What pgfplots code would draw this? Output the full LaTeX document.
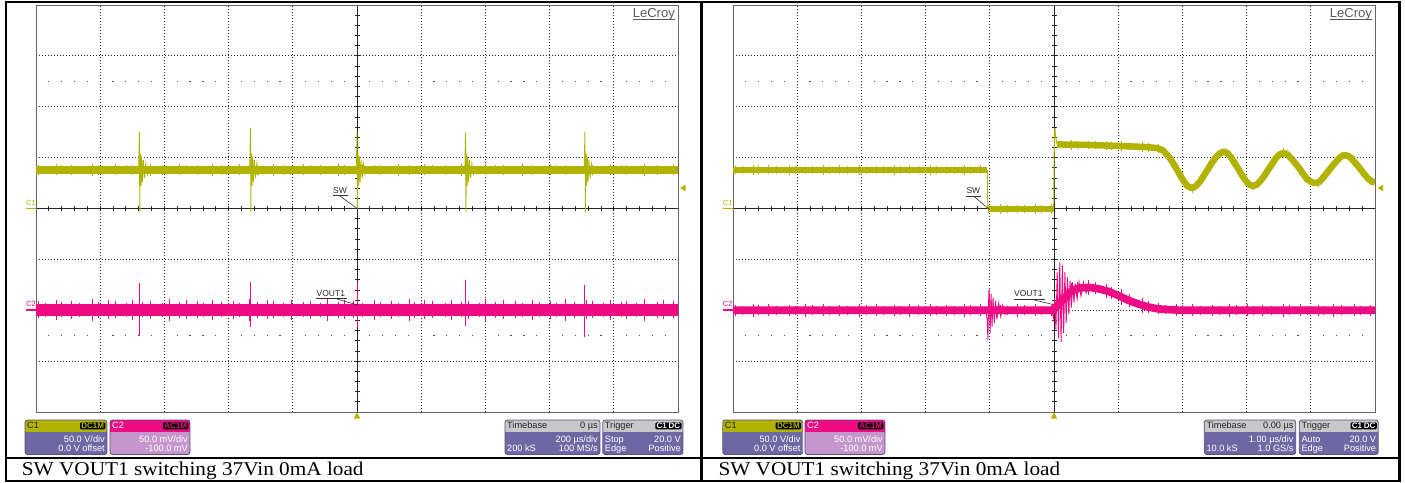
\documentclass[border=0pt]{standalone}
\usepackage{fontspec}
\setmainfont{Liberation Sans}
\newfontfamily\capfont{Liberation Serif}
\usepackage{pgfplots}
\usepackage{pgfplotstable}
\pgfplotsset{compat=1.18}
\definecolor{ytr}{RGB}{178,178,0}
\definecolor{ptr}{RGB}{238,10,130}
\definecolor{bpur}{RGB}{110,103,163}
\definecolor{bpink}{RGB}{196,150,204}
\definecolor{bgray}{RGB}{200,200,200}
\definecolor{bedge}{RGB}{85,80,125}
% noise band half-heights (div): x, centre and half-height per trace
\pgfplotstableread{
x    yA   eA    yB    eB    yC    eC    yD     eD
0.03 0.76 0.095 -1.99 0.165 0.76  0.082 -2.0   0.105
0.14 0.76 0.082 -1.99 0.14  0.76  0.074 -2.0   0.09
0.31 0.76 0.108 -1.99 0.2   0.76  0.095 -2.0   0.125
0.40 0.76 0.088 -1.99 0.15  0.76  0.078 -2.0   0.095
0.55 0.76 0.102 -1.99 0.18  0.76  0.09  -2.0   0.115
0.68 0.76 0.08  -1.99 0.135 0.76  0.073 -2.0   0.088
0.87 0.76 0.115 -1.99 0.215 0.76  0.102 -2.0   0.105
0.97 0.76 0.095 -1.99 0.155 0.76  0.08  -2.0   0.09
1.13 0.76 0.082 -1.99 0.185 0.76  0.082 -2.0   0.125
1.24 0.76 0.108 -1.99 0.165 0.76  0.074 -2.0   0.095
1.41 0.76 0.088 -1.99 0.14  0.76  0.095 -2.0   0.115
1.50 0.76 0.102 -1.99 0.2   0.76  0.078 -2.0   0.088
1.65 0.76 0.08  -1.99 0.15  0.76  0.09  -2.0   0.105
1.78 0.76 0.115 -1.99 0.18  0.76  0.073 -2.0   0.09
1.97 0.76 0.095 -1.99 0.135 0.76  0.102 -2.0   0.125
2.07 0.76 0.082 -1.99 0.215 0.76  0.08  -2.0   0.095
2.23 0.76 0.108 -1.99 0.155 0.76  0.082 -2.0   0.115
2.34 0.76 0.088 -1.99 0.185 0.76  0.074 -2.0   0.088
2.51 0.76 0.102 -1.99 0.165 0.76  0.095 -2.0   0.105
2.60 0.76 0.08  -1.99 0.14  0.76  0.078 -2.0   0.09
2.75 0.76 0.115 -1.99 0.2   0.76  0.09  -2.0   0.125
2.88 0.76 0.095 -1.99 0.15  0.76  0.073 -2.0   0.095
3.07 0.76 0.082 -1.99 0.18  0.76  0.102 -2.0   0.115
3.17 0.76 0.108 -1.99 0.135 0.76  0.08  -2.0   0.088
3.33 0.76 0.088 -1.99 0.215 0.76  0.082 -2.0   0.105
3.44 0.76 0.102 -1.99 0.155 0.76  0.074 -2.0   0.09
3.61 0.76 0.08  -1.99 0.185 0.76  0.095 -2.0   0.125
3.70 0.76 0.115 -1.99 0.165 0.76  0.078 -2.0   0.095
3.85 0.76 0.095 -1.99 0.14  0.76  0.09  -2.0   0.115
3.98 0.76 0.082 -1.99 0.2   -0.01 0.073 -2.0   0.088
4.17 0.76 0.108 -1.99 0.15  -0.01 0.102 -2.0   0.105
4.27 0.76 0.088 -1.99 0.18  -0.01 0.08  -2.0   0.09
4.43 0.76 0.102 -1.99 0.135 -0.01 0.082 -2.0   0.125
4.54 0.76 0.08  -1.99 0.215 -0.01 0.074 -2.0   0.095
4.71 0.76 0.115 -1.99 0.155 -0.01 0.095 -2.0   0.115
4.80 0.76 0.095 -1.99 0.185 -0.01 0.078 -2.0   0.088
4.95 0.76 0.082 -1.99 0.165 -0.01 0.09  -2.0   0.105
5.08 0.76 0.108 -1.99 0.14  1.26  0.073 -1.82  0.09
5.27 0.76 0.088 -1.99 0.2   1.25  0.102 -1.62  0.155
5.37 0.76 0.102 -1.99 0.15  1.25  0.08  -1.57  0.125
5.53 0.76 0.08  -1.99 0.18  1.25  0.082 -1.55  0.145
5.64 0.76 0.115 -1.99 0.135 1.245 0.074 -1.57  0.118
5.81 0.76 0.095 -1.99 0.215 1.24  0.095 -1.62  0.135
5.90 0.76 0.082 -1.99 0.155 1.235 0.078 -1.66  0.12
6.05 0.76 0.108 -1.99 0.185 1.23  0.09  -1.74  0.155
6.18 0.76 0.088 -1.99 0.165 1.22  0.073 -1.81  0.125
6.37 0.76 0.102 -1.99 0.14  1.21  0.102 -1.90  0.145
6.47 0.76 0.08  -1.99 0.2   1.20  0.08  -1.94  0.118
6.63 0.76 0.115 -1.99 0.15  1.18  0.082 -1.97  0.105
6.74 0.76 0.095 -1.99 0.18  1.10  0.074 -1.985 0.09
6.91 0.76 0.082 -1.99 0.135 0.78  0.095 -1.995 0.125
7.00 0.76 0.108 -1.99 0.215 0.58  0.078 -2.0   0.095
7.15 0.76 0.088 -1.99 0.155 0.40  0.09  -2.0   0.115
7.28 0.76 0.102 -1.99 0.185 0.54  0.073 -2.0   0.088
7.47 0.76 0.08  -1.99 0.165 0.92  0.102 -2.0   0.105
7.57 0.76 0.115 -1.99 0.14  1.07  0.08  -2.0   0.09
7.73 0.76 0.095 -1.99 0.2   1.05  0.082 -2.0   0.125
7.84 0.76 0.082 -1.99 0.15  0.84  0.074 -2.0   0.095
8.01 0.76 0.108 -1.99 0.18  0.51  0.095 -2.0   0.115
8.10 0.76 0.088 -1.99 0.135 0.44  0.078 -2.0   0.088
8.25 0.76 0.102 -1.99 0.215 0.60  0.09  -2.0   0.105
8.38 0.76 0.08  -1.99 0.155 0.84  0.073 -2.0   0.09
8.57 0.76 0.115 -1.99 0.185 1.09  0.102 -2.0   0.125
8.67 0.76 0.095 -1.99 0.165 1.02  0.08  -2.0   0.095
8.83 0.76 0.082 -1.99 0.14  0.77  0.082 -2.0   0.115
8.94 0.76 0.108 -1.99 0.2   0.58  0.074 -2.0   0.088
9.11 0.76 0.088 -1.99 0.15  0.51  0.095 -2.0   0.105
9.20 0.76 0.102 -1.99 0.18  0.62  0.078 -2.0   0.09
9.35 0.76 0.08  -1.99 0.135 0.86  0.09  -2.0   0.125
9.48 0.76 0.115 -1.99 0.215 1.03  0.073 -2.0   0.095
9.67 0.76 0.095 -1.99 0.155 0.93  0.102 -2.0   0.115
9.77 0.76 0.082 -1.99 0.185 0.78  0.08  -2.0   0.088
9.93 0.76 0.108 -1.99 0.165 0.55  0.082 -2.0   0.105
}\hair
\pgfplotsset{osc/.style={width=642pt,height=407pt,scale only axis,
  xmin=0,xmax=10,ymin=-4,ymax=4,
  xtick={1,2,3,4,6,7,8,9}, ytick={-3,-2,-1,1,2,3},
  xticklabels={}, yticklabels={}, major tick length=0pt, tick style={draw=none},
  xmajorgrids, ymajorgrids,
  major grid style={black!85, line width=0.8pt, dash pattern=on 1pt off 2pt},
  axis line style={black!60, line width=0.9pt}, anchor=south west},
  hairs/.style={draw=none, mark=none, forget plot, error bars/.cd, y dir=both, y explicit,
  error mark=none, error bar style={draw=#1, line width=0.6pt, solid}}}
\newcommand\boxfont{\fontsize{9.2}{9.2}\selectfont}
\tikzset{badge/.style={fill=black, rounded corners=1.2pt, inner xsep=1.3pt, inner ysep=0.7pt,
  font=\fontsize{8}{8}\selectfont\bfseries, text height=5.6pt, text depth=0pt, anchor=east},
  bt/.style={inner sep=0pt, font=\boxfont},
  lbl/.style={inner sep=0pt, font=\fontsize{8.5}{8.5}\selectfont, text=black!85, anchor=base west}}
\newcommand{\obox}[4]{%
  \begin{scope}
    \clip[rounded corners=2.5pt] (#1,420) rectangle (#2,454.5);
    \fill[#4] (#1,420) rectangle (#2,454.5);
    \fill[#3] (#1,420) rectangle (#2,431.5);
  \end{scope}
  \draw[bedge, line width=0.8pt, rounded corners=2.5pt] (#1,420) rectangle (#2,454.5);}
\begin{document}
\begin{tikzpicture}
\path[use as bounding box] (0,0) rectangle (1405pt,-482pt);
% centre cross, ticks and dot rows
\begin{scope}[x=1pt,y=-1pt]
\foreach \X in {36,733} {
  \draw[black!85, line width=0.8pt] (\X,208.5) -- ({\X+642},208.5);
  \draw[black!85, line width=0.8pt] ({\X+321},5) -- ({\X+321},412);
  \foreach \k in {1,...,49} {
    \draw[black!85, line width=0.8pt] ({\X+12.84*\k},206) -- ({\X+12.84*\k},211);
    \pgfmathtruncatemacro\m{mod(\k,5)}
    \ifnum\m>0
      \fill[black!70] ({\X+12.84*\k-0.6},80.7) rectangle ({\X+12.84*\k+0.6},81.9);
      \fill[black!70] ({\X+12.84*\k-0.6},335.2) rectangle ({\X+12.84*\k+0.6},336.4);
    \fi
  }
  \foreach \k in {1,...,39} {
    \draw[black!85, line width=0.8pt] ({\X+318.5},{5+10.175*\k}) -- ({\X+323.5},{5+10.175*\k});
  }
}
\end{scope}

% ---------------- left screen ----------------
\begin{axis}[osc, at={(36pt,-412pt)}]
\addplot[ytr, line width=7.6pt] coordinates {(0,0.76) (10,0.76)};
\addplot[hairs=ytr] table[x=x, y=yA, y error=eA] {\hair};
\addplot[ytr, line width=0.9pt] coordinates {(1.60,0.76)(1.61,1.50)(1.614,0.80)(1.617,-0.07)(1.621,0.70)(1.628,1.08)(1.636,0.45)(1.646,1.02)(1.658,0.52)(1.672,0.95)(1.69,0.60)(1.71,0.88)(1.735,0.68)(1.76,0.80)(1.79,0.76)};
\addplot[ytr, line width=0.9pt] coordinates {(3.33,0.76)(3.34,1.58)(3.344,0.80)(3.347,-0.07)(3.351,0.70)(3.358,1.08)(3.366,0.45)(3.376,1.02)(3.388,0.52)(3.402,0.95)(3.42,0.60)(3.44,0.88)(3.465,0.68)(3.49,0.80)(3.52,0.76)};
\addplot[ytr, line width=0.9pt] coordinates {(4.99,0.76)(5.00,1.49)(5.004,0.80)(5.007,0.00)(5.011,0.70)(5.018,1.08)(5.026,0.45)(5.036,1.02)(5.048,0.52)(5.062,0.95)(5.08,0.60)(5.10,0.88)(5.125,0.68)(5.15,0.80)(5.18,0.76)};
\addplot[ytr, line width=0.9pt] coordinates {(6.68,0.76)(6.69,1.48)(6.694,0.80)(6.697,-0.07)(6.701,0.70)(6.708,1.08)(6.716,0.45)(6.726,1.02)(6.738,0.52)(6.752,0.95)(6.77,0.60)(6.79,0.88)(6.815,0.68)(6.84,0.80)(6.87,0.76)};
\addplot[ytr, line width=0.9pt] coordinates {(8.54,0.76)(8.55,1.51)(8.554,0.80)(8.557,-0.07)(8.561,0.70)(8.568,1.08)(8.576,0.45)(8.586,1.02)(8.598,0.52)(8.612,0.95)(8.63,0.60)(8.65,0.88)(8.675,0.68)(8.70,0.80)(8.73,0.76)};
\addplot[ptr, line width=12pt] coordinates {(0,-1.99) (10,-1.99)};
\addplot[hairs=ptr] table[x=x, y=yB, y error=eB] {\hair};
\addplot[ptr, line width=0.9pt] coordinates {(1.61,-1.46)(1.61,-2.50)};
\addplot[ptr, line width=0.9pt] coordinates {(3.34,-1.44)(3.34,-2.33)};
\addplot[ptr, line width=0.9pt] coordinates {(5.00,-1.44)(5.00,-2.33)};
\addplot[ptr, line width=0.9pt] coordinates {(6.69,-1.40)(6.69,-2.31)};
\addplot[ptr, line width=0.9pt] coordinates {(8.55,-1.51)(8.55,-2.53)};
\end{axis}

% ---------------- right screen ----------------
\begin{axis}[osc, at={(733pt,-412pt)}]
\addplot[ytr, line width=6.5pt] coordinates {(0,0.76) (3.962,0.76)};
\addplot[ytr, line width=1pt] coordinates {(3.962,0.76)(3.966,0.30)(3.970,-0.01)};
\addplot[ytr, line width=5.5pt] coordinates {(3.970,-0.01) (4.995,-0.01)};
\addplot[ytr, line width=1pt] coordinates {(4.995,-0.01)(5.0,0.6)(5.006,1.45)(5.014,1.58)(5.025,1.42)(5.04,1.30)(5.06,1.26)};
\addplot[ytr, line width=6.5pt, line join=round] coordinates {(5.05,1.26)(5.5,1.25)(6.0,1.23)(6.4,1.21)(6.6,1.19)(6.7,1.14)(6.8,1.0)(6.9,0.80)(7.0,0.58)(7.07,0.45)(7.14,0.40)(7.2,0.43)(7.27,0.52)(7.33,0.64)(7.39,0.76)(7.45,0.88)(7.51,0.99)(7.58,1.08)(7.64,1.12)(7.70,1.09)(7.76,1.00)(7.81,0.90)(7.87,0.78)(7.93,0.65)(7.99,0.54)(8.04,0.47)(8.10,0.44)(8.16,0.47)(8.22,0.55)(8.28,0.65)(8.34,0.77)(8.40,0.88)(8.45,0.98)(8.51,1.06)(8.57,1.09)(8.63,1.07)(8.69,0.99)(8.76,0.89)(8.82,0.79)(8.88,0.68)(8.94,0.58)(9.01,0.52)(9.07,0.50)(9.13,0.52)(9.18,0.59)(9.24,0.68)(9.30,0.78)(9.36,0.87)(9.42,0.96)(9.47,1.02)(9.53,1.05)(9.59,1.03)(9.65,0.96)(9.71,0.87)(9.77,0.78)(9.83,0.68)(9.89,0.59)(9.95,0.53)(10.0,0.51)};
\addplot[hairs=ytr] table[x=x, y=yC, y error=eC] {\hair};
\addplot[ptr, line width=7.6pt, line join=round] coordinates {(0,-2.0)(4.98,-2.0)(5.1,-1.85)(5.25,-1.64)(5.4,-1.56)(5.55,-1.55)(5.7,-1.58)(5.85,-1.63)(6.0,-1.71)(6.15,-1.80)(6.3,-1.87)(6.45,-1.93)(6.6,-1.97)(6.8,-1.99)(7.0,-2.0)(10,-2.0)};
\addplot[hairs=ptr] table[x=x, y=yD, y error=eD] {\hair};
\addplot[ptr, line width=0.9pt] coordinates {(3.94,-2.0)(3.96,-2.2)(3.97,-2.58)(3.985,-1.62)(3.99,-1.58)(4.005,-2.45)(4.02,-1.68)(4.035,-2.32)(4.05,-1.75)(4.07,-2.25)(4.09,-1.82)(4.11,-2.18)(4.14,-1.86)(4.17,-2.12)(4.20,-1.90)(4.24,-2.08)(4.28,-1.95)(4.32,-2.0)};
\addplot[ptr, line width=0.9pt] coordinates {(4.97,-2.0)(4.99,-2.15)(5.01,-1.75)(5.03,-2.38)(5.05,-1.25)(5.07,-2.55)(5.09,-1.06)(5.11,-2.62)(5.13,-1.12)(5.15,-2.45)(5.17,-1.25)(5.19,-2.25)(5.21,-1.35)(5.23,-2.08)(5.25,-1.42)(5.27,-1.95)(5.29,-1.45)(5.31,-1.85)(5.33,-1.48)(5.36,-1.78)(5.39,-1.45)(5.42,-1.72)(5.46,-1.45)(5.50,-1.66)(5.55,-1.50)};
\end{axis}

% ---------------- overlays ----------------
\begin{scope}[x=1pt,y=-1pt]
\foreach \X in {0,697} {
  \node[anchor=base east, inner sep=0pt, text=black!65, font=\fontsize{13}{13}\selectfont] at ({675+\X},17.5) {LeCroy};
  \draw[black!65, line width=0.8pt] ({633+\X},19.8) -- ({675+\X},19.8);
}
\foreach \X in {26,722.7} {
  \node[anchor=base west, inner sep=0pt, text=ytr, font=\fontsize{7.5}{7.5}\selectfont] at (\X,205.5) {C1};
  \draw[ytr, line width=1.4pt] (\X,208.5) -- ({\X+10.3},208.5);
  \node[anchor=base west, inner sep=0pt, text=ptr, font=\fontsize{7.5}{7.5}\selectfont] at (\X,306.8) {C2};
  \draw[ptr, line width=1.4pt] (\X,309.8) -- ({\X+10.3},309.8);
}
\fill[ytr] (680,188) -- (685.5,184.8) -- (685.5,191.2) -- cycle;
\fill[ytr] (1377.5,188) -- (1383,184.8) -- (1383,191.2) -- cycle;
\fill[ytr] (357,412.3) -- (353.8,418.5) -- (360.2,418.5) -- cycle;
\fill[ytr] (1054,412.3) -- (1050.8,418.5) -- (1057.2,418.5) -- cycle;
\node[lbl] at (333,193.3) {SW};
\draw[black!80, line width=0.6pt] (332.5,195.6) -- (347.5,195.6);
\draw[black!80, line width=0.6pt] (340,196) -- (357,208.5);
\node[lbl] at (966.3,193.5) {SW};
\draw[black!80, line width=0.6pt] (965.8,196) -- (981,196);
\draw[black!80, line width=0.6pt] (974,196.5) -- (989.5,209.5);
\node[lbl] at (316.5,296.3) {VOUT1};
\draw[black!80, line width=0.6pt] (316,298.6) -- (347,298.6);
\draw[black!80, line width=0.6pt] (337,299) -- (357.5,305);
\node[lbl] at (1014,296.8) {VOUT1};
\draw[black!80, line width=0.6pt] (1013.5,299.1) -- (1045,299.1);
\draw[black!80, line width=0.6pt] (1034,300) -- (1053,304.5);
% info boxes, left screen
\obox{25}{107}{ytr}{bpur}
\node[bt, anchor=base west, text=black!85] at (27,428.5) {C1};
\node[badge, text=ytr] at (105.5,425.8) {DC1M};
\node[bt, anchor=base east, text=white] at (105,442.3) {50.0 V/div};
\node[bt, anchor=base east, text=white] at (105,451.5) {0.0 V offset};
\obox{110}{190}{ptr}{bpink}
\node[bt, anchor=base west, text=white] at (112,428.5) {C2};
\node[badge, text=ptr] at (188.5,425.8) {AC1M};
\node[bt, anchor=base east, text=white] at (188,442.3) {50.0 mV/div};
\node[bt, anchor=base east, text=white] at (188,451.5) {-100.0 mV};
\obox{505}{600}{bgray}{bpur}
\node[bt, anchor=base west, text=black!85] at (507,428.5) {Timebase};
\node[bt, anchor=base east, text=black!85] at (598,428.5) {0 µs};
\node[bt, anchor=base east, text=white] at (598,442.3) {200 µs/div};
\node[bt, anchor=base west, text=white] at (507,451.5) {200 kS};
\node[bt, anchor=base east, text=white] at (598,451.5) {100 MS/s};
\obox{602.7}{683}{bgray}{bpur}
\node[bt, anchor=base west, text=black!85] at (604.7,428.5) {Trigger};
\node[badge, text=white] at (668.3,425.8) {C1};
\node[badge, text=white] at (681.7,425.8) {DC};
\node[bt, anchor=base west, text=white] at (604.7,442.3) {Stop};
\node[bt, anchor=base east, text=white] at (681,442.3) {20.0 V};
\node[bt, anchor=base west, text=white] at (604.7,451.5) {Edge};
\node[bt, anchor=base east, text=white] at (681,451.5) {Positive};
% info boxes, right screen
\obox{722.7}{802.7}{ytr}{bpur}
\node[bt, anchor=base west, text=black!85] at (724.7,428.5) {C1};
\node[badge, text=ytr] at (801.2,425.8) {DC1M};
\node[bt, anchor=base east, text=white] at (800.7,442.3) {50.0 V/div};
\node[bt, anchor=base east, text=white] at (800.7,451.5) {0.0 V offset};
\obox{805}{885}{ptr}{bpink}
\node[bt, anchor=base west, text=white] at (807,428.5) {C2};
\node[badge, text=ptr] at (883.5,425.8) {AC1M};
\node[bt, anchor=base east, text=white] at (883,442.3) {50.0 mV/div};
\node[bt, anchor=base east, text=white] at (883,451.5) {-100.0 mV};
\obox{1204.3}{1295.7}{bgray}{bpur}
\node[bt, anchor=base west, text=black!85] at (1206.3,428.5) {Timebase};
\node[bt, anchor=base east, text=black!85] at (1293.7,428.5) {0.00 µs};
\node[bt, anchor=base east, text=white] at (1293.7,442.3) {1.00 µs/div};
\node[bt, anchor=base west, text=white] at (1206.3,451.5) {10.0 kS};
\node[bt, anchor=base east, text=white] at (1293.7,451.5) {1.0 GS/s};
\obox{1299.3}{1378.3}{bgray}{bpur}
\node[bt, anchor=base west, text=black!85] at (1301.3,428.5) {Trigger};
\node[badge, text=white] at (1363.6,425.8) {C1};
\node[badge, text=white] at (1377,425.8) {DC};
\node[bt, anchor=base west, text=white] at (1301.3,442.3) {Auto};
\node[bt, anchor=base east, text=white] at (1376.3,442.3) {20.0 V};
\node[bt, anchor=base west, text=white] at (1301.3,451.5) {Edge};
\node[bt, anchor=base east, text=white] at (1376.3,451.5) {Positive};
% captions
\node[anchor=base west, inner sep=0pt, font=\capfont\fontsize{19.5}{19.5}\selectfont] at (21.7,475) {\scalebox{1.09}[1]{SW VOUT1 switching 37Vin 0mA load}};
\node[anchor=base west, inner sep=0pt, font=\capfont\fontsize{19.5}{19.5}\selectfont] at (718.3,475) {\scalebox{1.09}[1]{SW VOUT1 switching 37Vin 0mA load}};
% table rules
\draw[black, line width=2.2pt] (4.8,2) -- (1400.5,2);
\draw[black, line width=2.2pt] (4.8,458) -- (1400.5,458);
\draw[black, line width=2.2pt] (4.8,481) -- (1400.5,481);
\draw[black, line width=2.2pt] (5.9,1) -- (5.9,482);
\draw[black, line width=2.5pt] (701.6,1) -- (701.6,482);
\draw[black, line width=2.5pt] (1399.4,1) -- (1399.4,482);
\end{scope}
\end{tikzpicture}
\end{document}
